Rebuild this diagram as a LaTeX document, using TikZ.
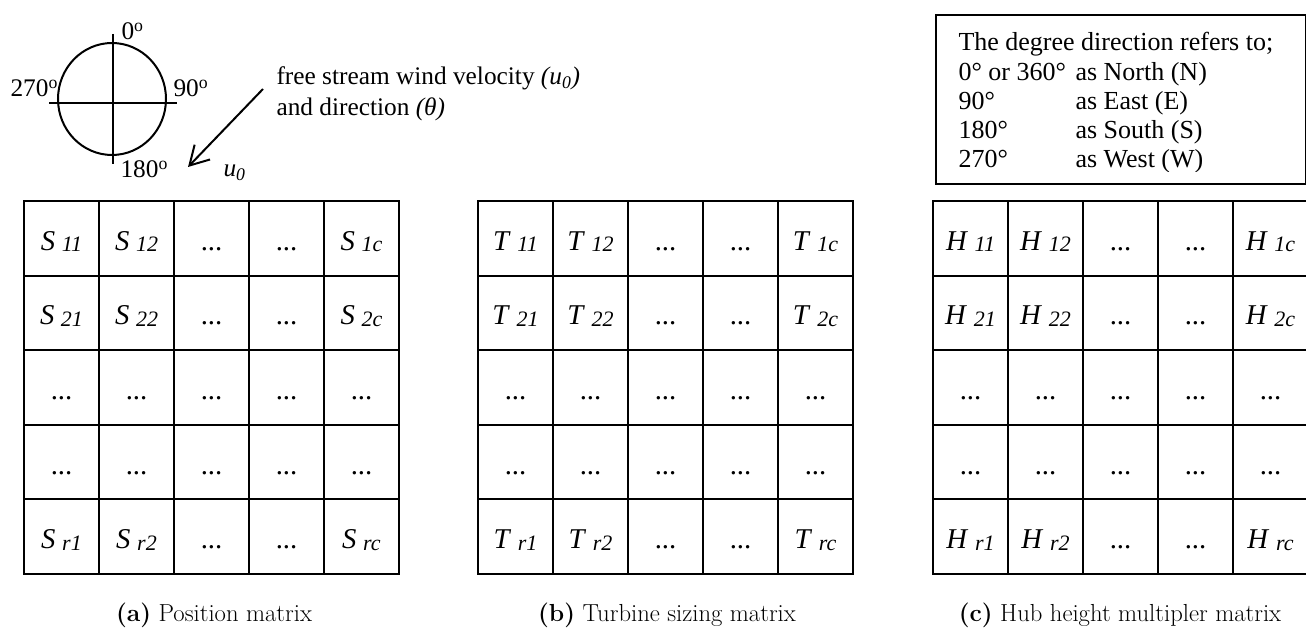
\documentclass[tikz,border=0pt]{standalone}
\usepackage{fontspec}
\newfontfamily\tnr{Liberation Serif}
\usetikzlibrary{arrows.meta}
\tikzset{every picture/.style={line width=0.75pt}}
% matrix entry: italic letter with italic index
\newcommand{\ent}[2]{\textit{#1}\hspace{5pt}\raisebox{-1pt}{\fontsize{16.5}{16.5}\selectfont\textit{#2}}}

\begin{document}
\begin{tikzpicture}[x=0.75pt,y=0.75pt,yscale=-1,xscale=1,
	cell/.style={draw, line width=1.6pt, minimum width=56.25pt, minimum height=55.95pt, inner sep=0pt, text height=18pt, text depth=0pt, font=\tnr\fontsize{21.5}{23}\selectfont},
	lbl/.style={anchor=base west, inner sep=0pt, font=\tnr\fontsize{19}{23}\selectfont},
	boxtext/.style={anchor=base west, inner sep=0pt, font=\tnr\fontsize{19.5}{22}\selectfont},
	capt/.style={anchor=base, inner sep=0pt, font=\fontsize{18.5}{22}\selectfont},
	windarrow/.style={line width=1.5pt, -{Straight Barb[length=14pt,width=16pt]}}]
				\useasboundingbox (0,0) rectangle (1306,630);
				
				%Compass
				\draw [line width=1.5pt] (112,99) circle [x radius=54, y radius=56];
				\draw [line width=1.5pt] (113,34) -- (113,164);
				\draw [line width=1.5pt] (49,103) -- (177,103);
				
				% Text Node
				\node [lbl] (deg0) at (121,40) {0\textsuperscript{o}};
				% Text Node
				\node [lbl] (deg270) at (10,97) {270\textsuperscript{o}};
				% Text Node
				\node [lbl] (deg90) at (173,97) {90\textsuperscript{o}};
				% Text Node
				\node [lbl] (deg180) at (120,178) {180\textsuperscript{o}};
				
				%Wind arrow
				\coordinate (wtail) at (263,89);
				\coordinate (whead) at (188,167);
				\draw [windarrow] (wtail) -- (whead);
				% Text Node
				\node [lbl] (uzero) at (223,177) {\textit{u}\textsubscript{\textit{0}}};
				% Text Node
				\node [lbl] (wind1) at (276,85) {free stream wind velocity \textit{(u\textsubscript{0})}};
				% Text Node
				\node [lbl] (wind2) at (276,116) {and direction \textit{(θ)}};
				
				%Legend box
				\node [draw, line width=1.3pt, anchor=north west, minimum width=277.5pt, minimum height=126.75pt, inner sep=0pt] (legend) at (935,14) {};
				\begin{scope}
					\clip (935,14) rectangle (1305,172);
					\node [boxtext] (dirhead) at (958,51) {The degree direction refers to;};
					\foreach \deg/\dir/\y in {0° or 360°/North (N)/81, 90°/East (E)/110, 180°/South (S)/139, 270°/West (W)/168}{
						\node [boxtext] (deg\y) at (958,\y) {\deg};
						\node [boxtext] (dir\y) at (1075,\y) {as \dir};
					}
				\end{scope}
				
				%Matrices
				\foreach \m/\L/\x in {a/S/24, b/T/478, c/H/933}{
					\foreach \r/\ri in {1/1, 2/2, 5/r}{
						\foreach \c/\ci in {1/1, 2/2, 5/c}{
							\node [cell] (\m\r\c) at ({\x+75*\c-37.5},{201+74.6*\r-37.3}) {\ent{\L}{\ri\ci}};
						}
						\foreach \c in {3,4}{
							\node [cell] (\m\r\c) at ({\x+75*\c-37.5},{201+74.6*\r-37.3}) {...};
						}
					}
					\foreach \r in {3,4}{
						\foreach \c in {1,...,5}{
							\node [cell] (\m\r\c) at ({\x+75*\c-37.5},{201+74.6*\r-37.3}) {...};
						}
					}
				}
				
				% Text Node
				\node [capt] (capa) at (214,621) {\textbf{(a)} Position matrix};
				% Text Node
				\node [capt] (capb) at (667,621) {\textbf{(b)} Turbine sizing matrix};
				% Text Node
				\node [capt] (capc) at (1120,621) {\textbf{(c)} Hub height multipler matrix};
				
			\end{tikzpicture}
\end{document}
